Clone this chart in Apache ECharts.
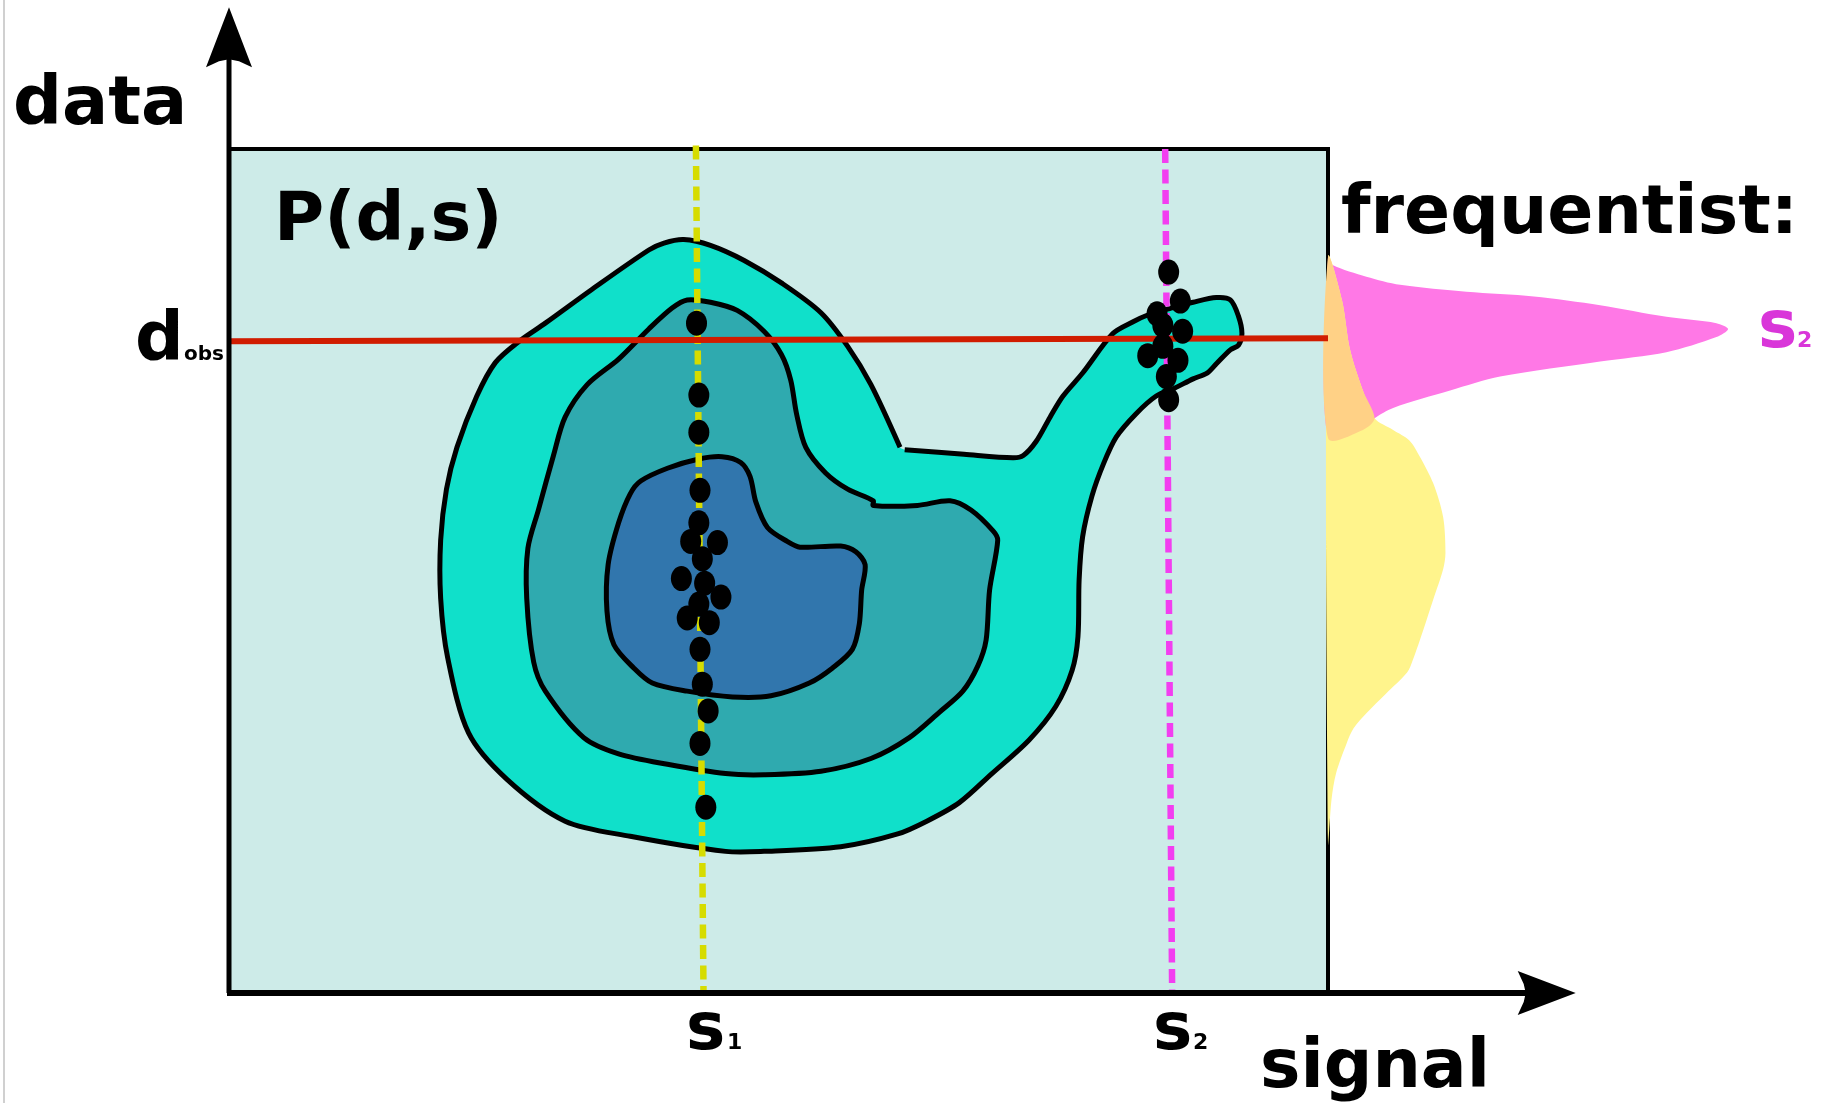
<!DOCTYPE html>
<html>
<head>
<meta charset="utf-8">
<title>P(d,s) - frequentist</title>
<script src="https://cdn.jsdelivr.net/npm/echarts@6/dist/echarts.min.js"></script>
<style>
  html, body { margin: 0; padding: 0; background: #fff; }
  #main { width: 1822px; height: 1103px; }
</style>
</head>
<body>
<div id="main"></div>
<script>
// signal on x, data on y (arbitrary units); the P(d,s) box spans 0..94.5 x 0..72.7
var boxSignal = [0, 94.5];
var boxData = [0, 72.7];
var axisTip = [115.8, 84.9]; // where the arrows point to

// observed data line and the two signal values
var dObsLine = [[0, 56.15], [94.5, 56.4]];
var s1Line = [[40.15, 73.0], [40.8, 0.2]];
var s2Line = [[80.5, 72.7], [81.1, 0]];

// contour levels of P(d,s), outer -> inner
var outerContour = [
  [58.1, 46.8], [63.2, 46.4], [67.4, 46.1], [68.3, 46.3], [69.4, 47.5], [70.6, 49.6], [71.7, 51.4],
  [73.4, 53.4], [76.0, 56.8], [77.7, 57.8], [79.0, 58.4], [81.0, 59.0], [82.9, 59.5], [84.9, 59.9],
  [86.1, 59.7], [86.8, 58.3], [87.1, 56.8], [86.8, 55.8], [86.1, 55.4], [84.9, 54.2], [84.1, 53.4],
  [82.9, 52.9], [81.3, 52.1], [79.7, 51.4], [78.0, 49.9], [76.3, 47.9], [75.2, 45.6], [74.2, 42.8],
  [73.4, 39.3], [73.1, 35.6], [73.0, 30.7], [72.5, 27.8], [71.1, 24.7], [68.8, 21.8], [65.6, 18.9],
  [62.8, 16.4], [60.0, 14.8], [57.5, 13.7], [52.6, 12.6], [46.0, 12.2], [42.7, 12.2], [34.5, 13.5], [28.9, 14.8],
  [23.9, 18.4], [20.6, 22.4], [18.8, 28.9], [18.2, 34.0], [18.2, 39.0], [18.7, 43.4], [19.6, 47.0],
  [21.3, 51.4], [22.9, 54.3], [24.9, 56.1], [27.2, 57.7], [31.2, 60.6], [36.1, 64.0], [37.4, 64.6],
  [39.1, 64.9], [41.4, 64.4], [44.3, 63.1], [47.6, 61.1], [50.9, 58.6], [53.2, 55.7], [55.2, 52.4],
  [57.7, 47.0]
];
var middleContour = [
  [39.4, 59.7], [41.4, 59.5], [43.7, 58.8], [46.0, 57.0], [47.5, 55.0], [48.3, 52.8], [48.8, 49.9],
  [49.6, 47.0], [51.3, 44.8], [53.2, 43.4], [55.4, 42.4], [55.4, 42.0], [59.2, 42.0], [62.0, 42.4],
  [63.8, 41.6], [65.7, 39.8], [66.1, 39.0], [65.4, 34.7], [65.1, 30.4], [64.4, 28.2], [63.1, 26.0],
  [61.1, 24.2], [58.5, 22.0], [55.2, 20.2], [50.9, 19.1], [46.0, 18.8], [42.7, 18.9], [37.7, 19.7],
  [33.5, 20.6], [30.5, 22.0], [27.2, 26.0], [26.2, 28.5], [25.6, 34.0], [25.7, 38.3], [26.6, 41.6],
  [27.9, 46.3], [28.9, 49.6], [30.8, 52.4], [33.5, 54.6], [36.1, 57.2], [38.1, 59.0]
];
var innerContour = [
  [35.4, 44.1], [37.7, 45.2], [40.4, 46.0], [42.4, 46.2], [44.0, 45.7], [44.8, 44.5], [45.3, 42.3],
  [46.3, 40.1], [48.0, 38.9], [49.1, 38.4], [52.6, 38.5], [53.9, 38.0], [54.7, 36.9], [54.4, 34.7],
  [54.2, 31.8], [53.6, 29.6], [51.9, 28.0], [49.9, 26.7], [46.6, 25.6], [43.3, 25.5], [39.4, 26.0],
  [36.4, 26.7], [34.8, 28.0], [33.1, 30.0], [32.5, 32.9], [32.6, 36.9], [33.5, 40.5], [34.5, 43.0]
];

// sampled data at s1 and s2
var s1Samples = [
  [40.2, 57.7], [40.4, 51.5], [40.4, 48.3], [40.5, 43.3], [40.4, 40.5], [39.7, 38.9], [42.0, 38.8],
  [40.7, 37.4], [38.9, 35.7], [40.9, 35.3], [42.3, 34.1], [40.4, 33.5], [39.4, 32.3], [41.3, 31.9],
  [40.5, 29.6], [40.7, 26.6], [41.2, 24.3], [40.5, 21.5], [41.0, 16.0]
];
var s2Samples = [
  [80.8, 62.1], [81.8, 59.6], [79.8, 58.5], [80.3, 57.5], [82.0, 57.0], [80.3, 55.7], [79.0, 54.9],
  [81.6, 54.5], [80.6, 53.1], [80.8, 51.1]
];

// frequentist marginals P(d|s) drawn sideways right of the box
var pinkMarginal = [
  [94.5, 63.4], [94.9, 62.7], [97.8, 61.7], [100.7, 61.0], [106.4, 60.4], [112.2, 60.0], [117.9, 59.25],
  [123.6, 58.25], [127.9, 57.7], [128.9, 57.2], [127.9, 56.5], [123.6, 55.2], [117.9, 54.4], [109.3, 53.1],
  [105.0, 51.9], [100.1, 50.4], [98.5, 49.5], [97.5, 48.5], [94.5, 47.8]
];
var yellowMarginal = [
  [94.5, 63.4], [95.7, 59.7], [96.4, 55.4], [97.5, 51.9], [98.5, 49.5], [100.1, 48.5], [101.5, 47.6],
  [102.4, 46.2], [103.55, 43.9], [104.4, 41.0], [104.6, 37.9], [104.4, 36.5], [103.55, 33.9], [102.7, 31.3],
  [101.8, 28.7], [101.3, 27.6], [99.5, 25.8], [97.8, 24.1], [96.7, 22.8], [96.1, 21.5], [95.2, 18.95],
  [94.8, 16.65], [94.5, 12.9]
];
var overlapMarginal = [
  [94.5, 63.4], [95.7, 59.7], [96.4, 55.4], [97.5, 51.9], [98.5, 49.5], [97.5, 48.5], [94.5, 47.8]
];

var FONT = '"DejaVu Sans", "Noto Sans", sans-serif';

// filled shape through the cartesian scales
function shapeSeries(pts, fill, z, stroke, openOutline) {
  return {
    type: 'custom',
    coordinateSystem: 'cartesian2d',
    clip: false,
    silent: true,
    z: z,
    data: [pts[0]],
    renderItem: function (params, api) {
      var p = pts.map(function (d) { return api.coord(d); });
      var kids = [{
        type: 'polygon',
        shape: { points: p, smooth: 0.3 },
        style: { fill: fill, stroke: (stroke && !openOutline) ? '#000' : null, lineWidth: 5 }
      }];
      if (stroke && openOutline) {
        kids.push({
          type: 'polyline',
          shape: { points: p, smooth: 0.3 },
          style: { fill: null, stroke: '#000', lineWidth: 5 }
        });
      }
      return { type: 'group', children: kids };
    }
  };
}

// text placed by its baseline
function label(text, x, baseline, size, color) {
  return {
    type: 'text',
    x: x,
    y: baseline - 0.26 * size,
    z: 100,
    style: {
      text: text,
      font: 'bold ' + size + 'px ' + FONT,
      fill: color || '#000',
      verticalAlign: 'middle'
    }
  };
}

var chart = echarts.init(document.getElementById('main'));
chart.setOption({
  animation: false,
  backgroundColor: '#fff',
  grid: {
    left: 229, top: 149, width: 1099, height: 844,
    show: true,
    backgroundColor: '#CDEBE8',
    borderColor: '#000',
    borderWidth: 4,
    z: 0
  },
  xAxis: { type: 'value', min: boxSignal[0], max: boxSignal[1], show: false },
  yAxis: { type: 'value', min: boxData[0], max: boxData[1], show: false },
  graphic: [
    { type: 'line', shape: { x1: 4, y1: 0, x2: 4, y2: 1103 }, style: { stroke: '#d0d0d0', lineWidth: 2 } },
    label('data', 13, 124, 68.5),
    label('P(d,s)', 274, 240, 68.5),
    label('frequentist:', 1341, 233, 68),
    label('d', 135, 360, 68),
    label('obs', 184, 360, 20),
    label('s', 686, 1049, 66),
    label('1', 727, 1049, 22),
    label('s', 1153, 1049, 66),
    label('2', 1193, 1049, 22),
    label('signal', 1260, 1087, 68),
    label('s', 1758, 347, 66, '#D936D9'),
    label('2', 1797, 347, 22, '#D936D9')
  ],
  series: [
    shapeSeries(pinkMarginal, '#FF78E6', 1, false),
    shapeSeries(yellowMarginal, '#FFF48C', 1, false),
    shapeSeries(overlapMarginal, '#FFD186', 1, false),
    shapeSeries(outerContour, '#10E0CA', 2, true, true),
    shapeSeries(middleContour, '#2FAAAF', 3, true),
    shapeSeries(innerContour, '#3176AD', 4, true),
    {
      type: 'line', data: s1Line, symbol: 'none', clip: false, silent: true, z: 5,
      lineStyle: { color: '#D6DC00', width: 6.5, type: [14, 6.5], cap: 'butt' }
    },
    {
      type: 'line', data: s2Line, symbol: 'none', clip: false, silent: true, z: 5,
      lineStyle: { color: '#F23EF0', width: 6.5, type: [14, 6.5], cap: 'butt' }
    },
    {
      type: 'line', data: dObsLine, symbol: 'none', clip: false, silent: true, z: 6,
      lineStyle: { color: '#D01C00', width: 6 }
    },
    {
      type: 'scatter', data: s1Samples.concat(s2Samples), symbol: 'circle', symbolSize: [21, 25],
      clip: false, silent: true, z: 7,
      itemStyle: { color: '#000', opacity: 1 }
    },
    {
      // axes with arrow heads
      type: 'custom', coordinateSystem: 'cartesian2d', clip: false, silent: true, z: 9,
      data: [[0, 0]],
      renderItem: function (params, api) {
        var o = api.coord([0, 0]);
        var tx = api.coord([axisTip[0], 0]);
        var ty = api.coord([0, axisTip[1]]);
        var x = o[0], y = o[1];
        return {
          type: 'group',
          children: [
            { type: 'line', shape: { x1: x, y1: y, x2: x, y2: ty[1] + 50 }, style: { stroke: '#000', lineWidth: 5 } },
            { type: 'line', shape: { x1: x - 2, y1: y, x2: tx[0] - 48, y2: y }, style: { stroke: '#000', lineWidth: 6 } },
            {
              type: 'polygon',
              shape: { points: [[x, ty[1]], [x - 23, ty[1] + 60], [x - 10, ty[1] + 54], [x, ty[1] + 52], [x + 10, ty[1] + 54], [x + 23, ty[1] + 60]] },
              style: { fill: '#000' }
            },
            {
              type: 'polygon',
              shape: { points: [[tx[0], y], [tx[0] - 58, y - 22], [tx[0] - 52, y - 9], [tx[0] - 50, y], [tx[0] - 52, y + 9], [tx[0] - 58, y + 22]] },
              style: { fill: '#000' }
            }
          ]
        };
      }
    }
  ]
});
</script>
</body>
</html>
